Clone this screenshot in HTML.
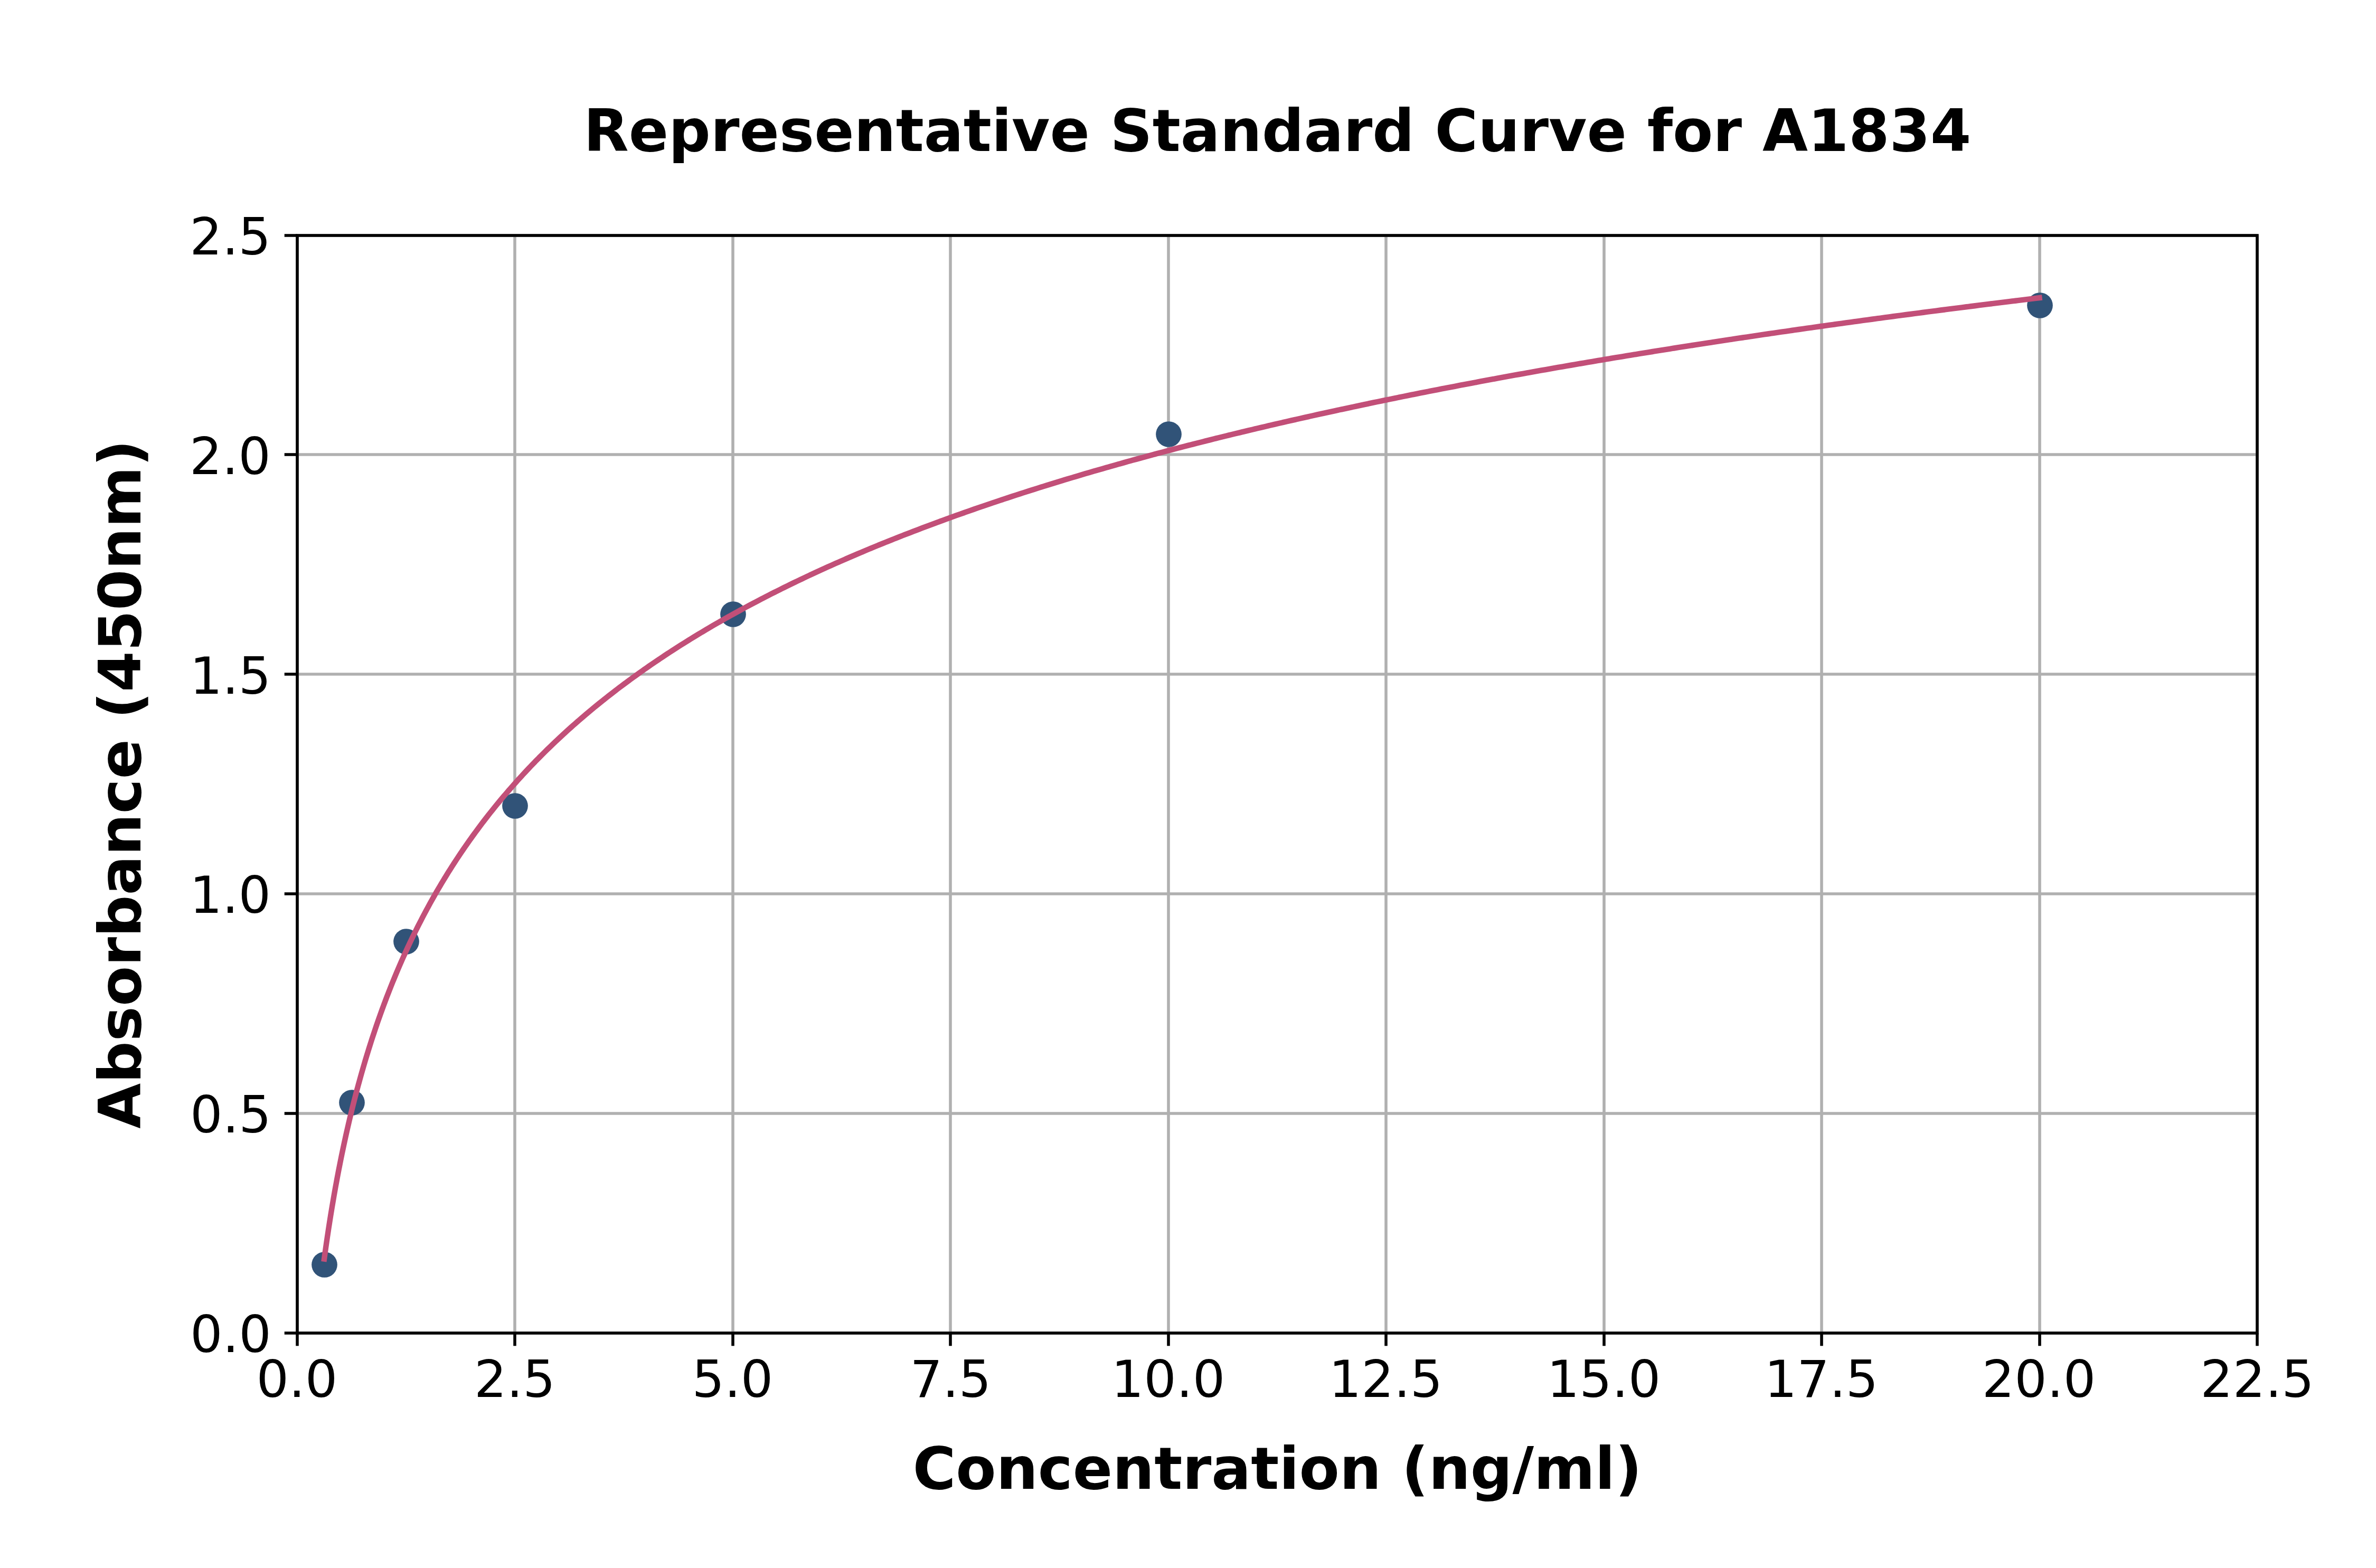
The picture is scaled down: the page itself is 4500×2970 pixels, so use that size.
<!DOCTYPE html>
<html lang="en"><head><meta charset="utf-8"><title>Representative Standard Curve for A1834</title>
<style>
html,body{margin:0;padding:0;background:#fff;}
body{width:4500px;height:2970px;overflow:hidden;}
svg{display:block;}
text{font-family:"DejaVu Sans","Liberation Sans",sans-serif;fill:#000;}
.t{font-size:96.8px;}
.b{font-size:111.11px;font-weight:bold;}
</style></head><body>
<svg width="4500" height="2970" viewBox="0 0 4500 2970">
<rect x="0" y="0" width="4500" height="2970" fill="#ffffff"/>

<g stroke="#b0b0b0" stroke-width="5.56" fill="none">
<line x1="563" y1="445.5" x2="563" y2="2524.5"/>
<line x1="975" y1="445.5" x2="975" y2="2524.5"/>
<line x1="1388" y1="445.5" x2="1388" y2="2524.5"/>
<line x1="1800" y1="445.5" x2="1800" y2="2524.5"/>
<line x1="2213" y1="445.5" x2="2213" y2="2524.5"/>
<line x1="2625" y1="445.5" x2="2625" y2="2524.5"/>
<line x1="3038" y1="445.5" x2="3038" y2="2524.5"/>
<line x1="3450" y1="445.5" x2="3450" y2="2524.5"/>
<line x1="3863" y1="445.5" x2="3863" y2="2524.5"/>
<line x1="4275" y1="445.5" x2="4275" y2="2524.5"/>
<line x1="562.5" y1="2525" x2="4275.0" y2="2525"/>
<line x1="562.5" y1="2109" x2="4275.0" y2="2109"/>
<line x1="562.5" y1="1693" x2="4275.0" y2="1693"/>
<line x1="562.5" y1="1277" x2="4275.0" y2="1277"/>
<line x1="562.5" y1="861" x2="4275.0" y2="861"/>
<line x1="562.5" y1="446" x2="4275.0" y2="446"/>
</g>
<g fill="#315378">
<circle cx="614.5" cy="2395.5" r="24.35"/>
<circle cx="666.5" cy="2088.5" r="24.35"/>
<circle cx="769.5" cy="1783.5" r="24.35"/>
<circle cx="975.5" cy="1526.5" r="24.35"/>
<circle cx="1388.5" cy="1163.5" r="24.35"/>
<circle cx="2213.5" cy="822.5" r="24.35"/>
<circle cx="3863.5" cy="578.5" r="24.35"/>
</g>
<polyline points="614.06,2384.66 614.78,2379.35 615.52,2374.03 616.26,2368.69 617.01,2363.34 617.78,2357.98 618.55,2352.60 619.34,2347.22 620.13,2341.82 620.94,2336.40 621.76,2330.98 622.20,2328.05 622.59,2325.54 623.43,2320.10 624.28,2314.64 625.15,2309.16 626.03,2303.68 626.91,2298.18 627.82,2292.67 628.73,2287.15 629.66,2281.62 630.35,2277.57 630.60,2276.08 631.55,2270.52 632.52,2264.95 633.50,2259.38 634.50,2253.79 635.50,2248.18 636.53,2242.57 637.56,2236.95 638.49,2232.00 638.62,2231.31 639.68,2225.66 640.76,2220.00 641.86,2214.33 642.97,2208.65 644.10,2202.96 645.24,2197.26 646.40,2191.54 646.63,2190.42 647.57,2185.82 648.77,2180.08 649.97,2174.34 651.20,2168.58 652.44,2162.81 653.70,2157.03 654.77,2152.19 654.98,2151.25 656.27,2145.45 657.59,2139.64 658.92,2133.82 660.27,2127.99 661.64,2122.15 662.91,2116.79 663.03,2116.30 664.44,2110.44 665.86,2104.56 667.31,2098.68 668.78,2092.79 670.27,2086.89 671.05,2083.82 671.78,2080.98 673.31,2075.07 674.86,2069.14 676.43,2063.20 678.03,2057.25 679.19,2052.96 679.65,2051.29 681.29,2045.33 682.95,2039.35 684.64,2033.37 686.35,2027.37 687.34,2023.96 688.09,2021.37 689.84,2015.36 691.63,2009.34 693.44,2003.31 695.27,1997.27 695.48,1996.60 697.13,1991.22 699.02,1985.17 700.93,1979.11 702.87,1973.03 703.62,1970.70 704.83,1966.95 706.83,1960.87 708.85,1954.77 710.90,1948.67 711.76,1946.12 712.98,1942.55 715.08,1936.43 717.22,1930.31 719.39,1924.17 719.90,1922.73 721.59,1918.03 723.81,1911.88 726.07,1905.72 728.04,1900.42 728.37,1899.55 730.69,1893.38 733.04,1887.20 735.43,1881.01 736.18,1879.08 737.86,1874.82 740.31,1868.62 742.80,1862.41 744.33,1858.65 745.33,1856.19 747.89,1849.97 750.48,1843.75 752.47,1839.04 753.12,1837.51 755.79,1831.27 758.49,1825.02 760.61,1820.20 761.24,1818.77 764.02,1812.51 766.85,1806.24 768.75,1802.06 769.71,1799.97 772.61,1793.70 775.55,1787.41 776.89,1784.58 778.54,1781.12 781.56,1774.83 784.63,1768.53 785.03,1767.71 787.74,1762.23 790.90,1755.91 793.17,1751.41 794.10,1749.60 797.34,1743.28 800.63,1736.95 801.32,1735.64 803.97,1730.62 807.35,1724.29 809.46,1720.38 810.78,1717.95 814.25,1711.60 817.60,1705.58 817.78,1705.25 821.36,1698.90 824.98,1692.54 825.74,1691.22 828.66,1686.18 832.39,1679.81 833.88,1677.28 836.17,1673.44 840.00,1667.07 842.02,1663.74 843.89,1660.69 847.83,1654.30 850.16,1650.56 851.82,1647.92 855.88,1641.53 858.31,1637.74 859.99,1635.14 864.15,1628.74 866.45,1625.25 868.38,1622.34 872.66,1615.94 874.59,1613.09 877.01,1609.53 881.41,1603.12 882.73,1601.22 885.88,1596.71 890.41,1590.30 890.87,1589.65 895.00,1583.88 899.01,1578.35 899.66,1577.46 904.38,1571.04 907.15,1567.31 909.17,1564.62 914.02,1558.19 915.30,1556.52 918.95,1551.76 923.44,1545.97 923.94,1545.33 929.00,1538.90 931.58,1535.66 934.14,1532.46 939.34,1526.03 939.72,1525.56 944.62,1519.59 947.86,1515.68 949.97,1513.15 955.40,1506.71 956.00,1506.00 960.90,1500.27 964.14,1496.51 966.48,1493.82 972.14,1487.38 972.29,1487.21 977.88,1480.93 980.43,1478.10 983.70,1474.49 988.57,1469.15 989.60,1468.04 995.58,1461.59 996.71,1460.38 1001.64,1455.14 1004.85,1451.77 1007.80,1448.69 1012.99,1443.31 1014.03,1442.24 1020.36,1435.79 1021.13,1435.01 1026.77,1429.34 1029.28,1426.85 1033.27,1422.89 1037.42,1418.83 1039.87,1416.44 1045.56,1410.94 1046.55,1409.99 1053.33,1403.54 1053.70,1403.19 1060.21,1397.09 1061.84,1395.57 1067.18,1390.64 1069.98,1388.07 1074.25,1384.19 1078.12,1380.69 1081.41,1377.75 1086.27,1373.43 1088.68,1371.30 1094.41,1366.28 1096.05,1364.85 1102.55,1359.24 1103.53,1358.41 1110.69,1352.31 1111.10,1351.96 1118.79,1345.52 1118.83,1345.48 1126.58,1339.08 1126.97,1338.75 1134.48,1332.64 1135.12,1332.12 1142.49,1326.20 1143.26,1325.59 1150.62,1319.76 1151.40,1319.14 1158.85,1313.32 1159.54,1312.79 1167.21,1306.89 1167.68,1306.52 1175.68,1300.45 1175.82,1300.34 1183.96,1294.25 1184.26,1294.02 1192.11,1288.23 1192.97,1287.60 1200.25,1282.30 1201.80,1281.17 1208.39,1276.44 1210.76,1274.74 1216.53,1270.65 1219.84,1268.32 1224.67,1264.94 1229.04,1261.90 1232.81,1259.30 1238.38,1255.49 1240.95,1253.73 1247.85,1249.07 1249.10,1248.23 1257.24,1242.80 1257.45,1242.66 1265.38,1237.43 1267.18,1236.25 1273.52,1232.13 1277.05,1229.85 1281.66,1226.88 1287.06,1223.44 1289.80,1221.70 1297.21,1217.04 1297.94,1216.58 1306.09,1211.52 1307.50,1210.65 1314.23,1206.51 1317.93,1204.25 1322.37,1201.57 1328.51,1197.87 1330.51,1196.67 1338.65,1191.83 1339.24,1191.48 1346.79,1187.04 1350.12,1185.10 1354.93,1182.30 1361.15,1178.72 1363.08,1177.62 1371.22,1172.98 1372.34,1172.34 1379.36,1168.39 1383.68,1165.97 1387.50,1163.85 1395.19,1159.61 1395.64,1159.36 1403.78,1154.91 1406.85,1153.24 1411.92,1150.50 1418.68,1146.89 1420.07,1146.14 1428.21,1141.83 1430.67,1140.53 1436.35,1137.55 1442.83,1134.18 1444.49,1133.32 1452.63,1129.13 1455.16,1127.84 1460.77,1124.98 1467.66,1121.50 1468.91,1120.87 1477.06,1116.79 1480.34,1115.16 1485.20,1112.76 1493.19,1108.83 1493.34,1108.76 1501.48,1104.80 1506.23,1102.51 1509.62,1100.88 1517.76,1096.99 1519.45,1096.19 1525.90,1093.13 1532.85,1089.87 1534.05,1089.31 1542.19,1085.53 1546.44,1083.56 1550.33,1081.77 1558.47,1078.05 1560.22,1077.25 1566.61,1074.36 1574.20,1070.95 1574.75,1070.71 1582.89,1067.08 1588.37,1064.66 1591.04,1063.49 1599.18,1059.92 1602.74,1058.37 1607.32,1056.39 1615.46,1052.88 1617.31,1052.09 1623.60,1049.40 1631.74,1045.95 1632.08,1045.81 1639.88,1042.53 1647.06,1039.54 1648.03,1039.14 1656.17,1035.77 1662.25,1033.27 1664.31,1032.43 1672.45,1029.12 1677.66,1027.01 1680.59,1025.83 1688.73,1022.57 1693.28,1020.76 1696.88,1019.33 1705.02,1016.12 1709.12,1014.51 1713.16,1012.93 1721.30,1009.77 1725.18,1008.27 1729.44,1006.63 1737.58,1003.52 1741.46,1002.04 1745.72,1000.42 1753.87,997.35 1757.97,995.81 1762.01,994.30 1770.15,991.28 1774.72,989.59 1778.29,988.28 1786.43,985.29 1791.70,983.38 1794.57,982.33 1802.71,979.39 1808.91,977.17 1810.86,976.47 1819.00,973.57 1826.37,970.97 1827.14,970.70 1835.28,967.84 1843.42,965.00 1844.07,964.77 1851.56,962.18 1859.70,959.38 1862.03,958.58 1867.85,956.60 1875.99,953.84 1880.23,952.40 1884.13,951.09 1892.27,948.37 1898.68,946.23 1900.41,945.66 1908.55,942.97 1916.69,940.30 1917.40,940.07 1924.84,937.64 1932.98,935.00 1936.38,933.91 1941.12,932.38 1949.26,929.78 1955.62,927.76 1957.40,927.19 1965.54,924.62 1973.68,922.07 1975.13,921.61 1981.83,919.53 1989.97,917.01 1994.92,915.48 1998.11,914.50 2006.25,912.01 2014.39,909.53 2014.98,909.35 2022.53,907.07 2030.67,904.62 2035.33,903.23 2038.82,902.19 2046.96,899.77 2055.10,897.37 2055.95,897.12 2063.24,894.98 2071.38,892.61 2076.87,891.01 2079.52,890.25 2087.66,887.90 2095.81,885.57 2098.08,884.92 2103.95,883.25 2112.09,880.94 2119.59,878.83 2120.23,878.65 2128.37,876.37 2136.51,874.10 2141.40,872.75 2144.65,871.85 2152.80,869.61 2160.94,867.38 2163.52,866.68 2169.08,865.17 2177.22,862.96 2185.36,860.77 2185.94,860.61 2193.50,858.59 2201.64,856.42 2208.68,854.56 2209.79,854.27 2217.93,852.12 2226.07,849.99 2231.74,848.51 2234.21,847.87 2242.35,845.76 2250.49,843.66 2255.12,842.48 2258.63,841.58 2266.78,839.50 2274.92,837.43 2278.82,836.45 2283.06,835.38 2291.20,833.34 2299.34,831.30 2302.86,830.43 2307.48,829.28 2315.62,827.27 2323.77,825.27 2327.24,824.41 2331.91,823.27 2340.05,821.29 2348.19,819.32 2351.96,818.41 2356.33,817.36 2364.47,815.41 2372.62,813.47 2377.02,812.42 2380.76,811.53 2388.90,809.61 2397.04,807.70 2402.44,806.43 2405.18,805.79 2413.32,803.90 2421.46,802.01 2428.21,800.46 2429.61,800.14 2437.75,798.27 2445.89,796.41 2454.03,794.56 2454.34,794.49 2462.17,792.72 2470.31,790.89 2478.45,789.07 2480.84,788.53 2486.60,787.25 2494.74,785.45 2502.88,783.65 2507.71,782.59 2511.02,781.86 2519.16,780.08 2527.30,778.31 2534.95,776.65 2535.44,776.54 2543.59,774.79 2551.73,773.04 2559.87,771.30 2562.58,770.72 2568.01,769.56 2576.15,767.84 2584.29,766.12 2590.59,764.80 2592.43,764.41 2600.58,762.71 2608.72,761.02 2616.86,759.33 2619.00,758.89 2625.00,757.65 2633.14,755.98 2641.28,754.32 2647.81,752.99 2649.42,752.66 2657.57,751.01 2665.71,749.37 2673.85,747.73 2677.01,747.10 2681.99,746.11 2690.13,744.48 2698.27,742.87 2706.41,741.26 2706.63,741.22 2714.56,739.66 2722.70,738.07 2730.84,736.48 2736.66,735.35 2738.98,734.90 2747.12,733.33 2755.26,731.76 2763.40,730.20 2767.11,729.49 2771.55,728.64 2779.69,727.10 2787.83,725.55 2795.97,724.02 2797.99,723.64 2804.11,722.49 2812.25,720.97 2820.39,719.45 2828.54,717.94 2829.30,717.80 2836.68,716.44 2844.82,714.94 2852.96,713.45 2861.05,711.97 2861.10,711.96 2869.24,710.48 2877.38,709.00 2885.53,707.54 2893.25,706.15 2893.67,706.07 2901.81,704.62 2909.95,703.16 2918.09,701.72 2925.89,700.34 2926.23,700.28 2934.38,698.84 2942.52,697.42 2950.66,695.99 2958.80,694.57 2959.00,694.54 2966.94,693.16 2975.08,691.75 2983.22,690.35 2991.37,688.96 2992.56,688.75 2999.51,687.56 3007.65,686.18 3015.79,684.80 3023.93,683.42 3026.60,682.97 3032.07,682.05 3040.21,680.69 3048.36,679.33 3056.50,677.97 3061.11,677.20 3064.64,676.62 3072.78,675.28 3080.92,673.94 3089.06,672.60 3096.11,671.45 3097.20,671.27 3105.35,669.94 3113.49,668.62 3121.63,667.31 3129.77,666.00 3131.60,665.70 3137.91,664.69 3146.05,663.39 3154.19,662.09 3162.34,660.80 3167.58,659.97 3170.48,659.51 3178.62,658.22 3186.76,656.95 3194.90,655.67 3203.04,654.40 3204.07,654.24 3211.18,653.14 3219.33,651.87 3227.47,650.62 3235.61,649.36 3241.07,648.53 3243.75,648.12 3251.89,646.87 3260.03,645.63 3268.17,644.40 3276.32,643.17 3278.59,642.82 3284.46,641.94 3292.60,640.72 3300.74,639.50 3308.88,638.28 3316.63,637.13 3317.02,637.07 3325.16,635.87 3333.31,634.67 3341.45,633.47 3349.59,632.27 3355.21,631.45 3357.73,631.08 3365.87,629.90 3374.01,628.71 3382.15,627.54 3390.30,626.36 3394.32,625.78 3398.44,625.19 3406.58,624.02 3414.72,622.86 3422.86,621.70 3431.00,620.54 3433.99,620.12 3439.14,619.39 3447.29,618.25 3455.43,617.10 3463.57,615.96 3471.71,614.82 3474.20,614.48 3479.85,613.69 3487.99,612.56 3496.13,611.43 3504.28,610.31 3512.42,609.19 3514.99,608.84 3520.56,608.08 3528.70,606.96 3536.84,605.86 3544.98,604.75 3553.12,603.65 3556.34,603.21 3561.27,602.55 3569.41,601.46 3577.55,600.36 3585.69,599.28 3593.83,598.19 3598.27,597.60 3601.97,597.11 3610.12,596.03 3618.26,594.96 3626.40,593.89 3634.54,592.82 3640.80,592.00 3642.68,591.75 3650.82,590.69 3658.96,589.63 3667.11,588.58 3675.25,587.52 3683.39,586.48 3683.91,586.41 3691.53,585.43 3699.67,584.39 3707.81,583.35 3715.95,582.31 3724.10,581.28 3727.63,580.83 3732.24,580.25 3740.38,579.22 3748.52,578.20 3756.66,577.17 3764.80,576.16 3771.96,575.26 3772.94,575.14 3781.09,574.13 3789.23,573.12 3797.37,572.11 3805.51,571.11 3813.65,570.11 3816.92,569.71 3821.79,569.11 3829.93,568.11 3838.08,567.12 3846.22,566.13 3854.36,565.15 3862.50,564.16" fill="none" stroke="#c24f78" stroke-width="10.42" stroke-linecap="square" stroke-linejoin="round"/>
<g stroke="#000" stroke-width="5.56" fill="none">
<line x1="563" y1="2525" x2="563" y2="2549.3"/>
<line x1="975" y1="2525" x2="975" y2="2549.3"/>
<line x1="1388" y1="2525" x2="1388" y2="2549.3"/>
<line x1="1800" y1="2525" x2="1800" y2="2549.3"/>
<line x1="2213" y1="2525" x2="2213" y2="2549.3"/>
<line x1="2625" y1="2525" x2="2625" y2="2549.3"/>
<line x1="3038" y1="2525" x2="3038" y2="2549.3"/>
<line x1="3450" y1="2525" x2="3450" y2="2549.3"/>
<line x1="3863" y1="2525" x2="3863" y2="2549.3"/>
<line x1="4275" y1="2525" x2="4275" y2="2549.3"/>
<line x1="563" y1="2525" x2="538.7" y2="2525"/>
<line x1="563" y1="2109" x2="538.7" y2="2109"/>
<line x1="563" y1="1693" x2="538.7" y2="1693"/>
<line x1="563" y1="1277" x2="538.7" y2="1277"/>
<line x1="563" y1="861" x2="538.7" y2="861"/>
<line x1="563" y1="446" x2="538.7" y2="446"/>
<rect x="563" y="446" width="3712" height="2079" stroke-linejoin="miter"/>
</g>
<text class="t" x="562.5" y="2645.6" text-anchor="middle">0.0</text>
<text class="t" x="975.0" y="2645.6" text-anchor="middle">2.5</text>
<text class="t" x="1387.5" y="2645.6" text-anchor="middle">5.0</text>
<text class="t" x="1800.5" y="2645.6" text-anchor="middle">7.5</text>
<text class="t" x="2212.5" y="2645.6" text-anchor="middle">10.0</text>
<text class="t" x="2624.5" y="2645.6" text-anchor="middle">12.5</text>
<text class="t" x="3037.5" y="2645.6" text-anchor="middle">15.0</text>
<text class="t" x="3449.5" y="2645.6" text-anchor="middle">17.5</text>
<text class="t" x="3861.5" y="2645.6" text-anchor="middle">20.0</text>
<text class="t" x="4275.0" y="2645.6" text-anchor="middle">22.5</text>
<text class="t" x="513.9" y="2560.5" text-anchor="end">0.0</text>
<text class="t" x="513.9" y="2144.7" text-anchor="end">0.5</text>
<text class="t" x="513.2" y="1728.9" text-anchor="end">1.0</text>
<text class="t" x="513.4" y="1314.1" text-anchor="end">1.5</text>
<text class="t" x="512.9" y="898.3" text-anchor="end">2.0</text>
<text class="t" x="513.1" y="481.5" text-anchor="end">2.5</text>
<text class="b" x="2419.25" y="286" text-anchor="middle" letter-spacing="0.027">Representative Standard Curve for A1834</text>
<text class="b" x="2419.25" y="2819.7" text-anchor="middle" letter-spacing="0.05">Concentration (ng/ml)</text>
<text class="b" transform="translate(265.7,1485.4) rotate(-90)" x="0" y="0" text-anchor="middle">Absorbance (450nm)</text>
</svg></body></html>
